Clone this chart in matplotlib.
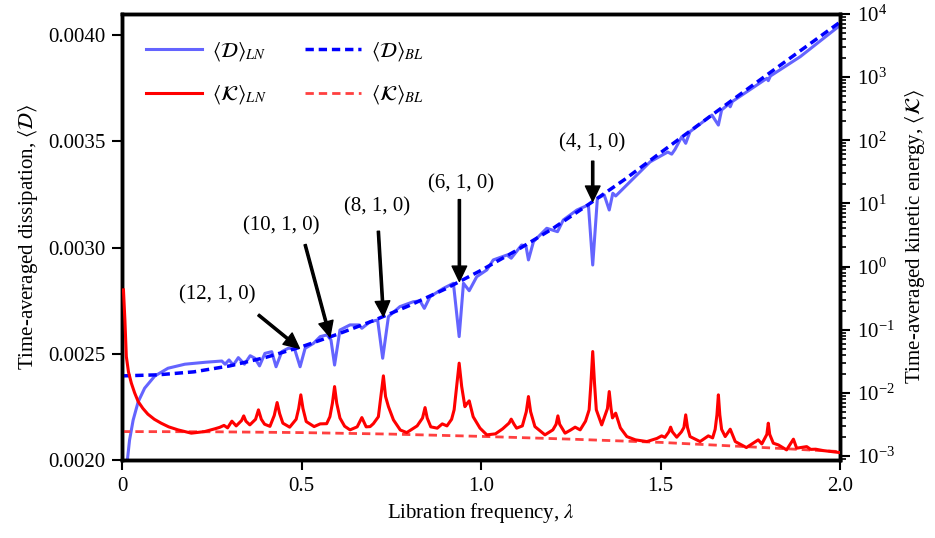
import matplotlib
matplotlib.use("Agg")
import matplotlib.pyplot as plt
from matplotlib.ticker import FixedLocator, FuncFormatter, LogLocator, NullFormatter

plt.rcParams['font.family'] = ['Liberation Serif', 'DejaVu Serif']
plt.rcParams['mathtext.fontset'] = 'stix'
plt.rcParams['font.size'] = 15

# dissipation, nonlinear run
lam_d_ln = [0.015, 0.021, 0.031, 0.045, 0.063, 0.091, 0.128, 0.175, 0.231, 0.262,
            0.278, 0.287, 0.298, 0.310, 0.324, 0.341, 0.357, 0.370, 0.383, 0.398,
            0.417, 0.429, 0.445, 0.463, 0.480, 0.496, 0.510, 0.533, 0.552, 0.571,
            0.582, 0.592, 0.607, 0.635, 0.660, 0.668, 0.691, 0.712, 0.726, 0.742,
            0.774, 0.811, 0.830, 0.842, 0.858, 0.895, 0.923, 0.939, 0.951, 0.967,
            0.988, 1.016, 1.034, 1.072, 1.084, 1.113, 1.125, 1.132, 1.146, 1.183,
            1.213, 1.229, 1.267, 1.299, 1.311, 1.324, 1.343, 1.357, 1.367, 1.375,
            1.406, 1.471, 1.520, 1.531, 1.540, 1.559, 1.570, 1.582, 1.643, 1.661,
            1.670, 1.690, 1.694, 1.700, 1.796, 1.800, 1.806, 1.889, 1.995, 2.000]
d_ln = [0.002000, 0.002094, 0.002188, 0.002274, 0.002338, 0.002395, 0.002432, 0.002451, 0.002460, 0.002464,
        0.002466, 0.002451, 0.002471, 0.002447, 0.002482, 0.002451, 0.002491, 0.002479, 0.002443, 0.002502,
        0.002510, 0.002439, 0.002510, 0.002526, 0.002526, 0.002439, 0.002526, 0.002549, 0.002581, 0.002589,
        0.002565, 0.002447, 0.002612, 0.002636, 0.002636, 0.002620, 0.002651, 0.002659, 0.002479, 0.002675,
        0.002722, 0.002745, 0.002749, 0.002714, 0.002769, 0.002808, 0.002832, 0.002581, 0.002832, 0.002797,
        0.002863, 0.002895, 0.002942, 0.002965, 0.002950, 0.003012, 0.003008, 0.002942, 0.003028, 0.003091,
        0.003075, 0.003130, 0.003177, 0.003201, 0.002918, 0.003232, 0.003248, 0.003177, 0.003256, 0.003243,
        0.003295, 0.003404, 0.003450, 0.003440, 0.003462, 0.003522, 0.003491, 0.003546, 0.003624, 0.003577,
        0.003648, 0.003676, 0.003663, 0.003688, 0.003797, 0.003786, 0.003808, 0.003899, 0.004040, 0.004048]

# dissipation, boundary-layer theory
lam_bl = [0.0, 0.1, 0.2, 0.3, 0.4, 0.5, 0.6, 0.7, 0.8, 0.9, 1.0,
          1.1, 1.2, 1.3, 1.4, 1.5, 1.6, 1.7, 1.8, 1.9, 2.0]
d_bl = [0.002396, 0.002401, 0.002415, 0.002443, 0.002483, 0.002533, 0.002592, 0.002656,
        0.002727, 0.002805, 0.002893, 0.002988, 0.003090, 0.003204, 0.003321, 0.003447,
        0.003571, 0.003695, 0.003818, 0.003940, 0.004062]

# kinetic energy, nonlinear run (log10 values)
lam_k_ln = [0.004, 0.008, 0.012, 0.018, 0.026, 0.035, 0.045, 0.058, 0.072, 0.090,
            0.109, 0.130, 0.156, 0.193, 0.230, 0.258, 0.272, 0.284, 0.294, 0.306,
            0.318, 0.333, 0.339, 0.345, 0.356, 0.372, 0.380, 0.388, 0.397, 0.412,
            0.424, 0.432, 0.439, 0.448, 0.467, 0.485, 0.492, 0.498, 0.504, 0.513,
            0.535, 0.552, 0.570, 0.579, 0.586, 0.592, 0.598, 0.607, 0.620, 0.635,
            0.655, 0.668, 0.680, 0.691, 0.700, 0.714, 0.721, 0.728, 0.734, 0.742,
            0.756, 0.775, 0.793, 0.822, 0.837, 0.844, 0.850, 0.860, 0.878, 0.892,
            0.905, 0.918, 0.925, 0.932, 0.939, 0.946, 0.955, 0.961, 0.967, 0.978,
            0.997, 1.016, 1.040, 1.060, 1.078, 1.084, 1.092, 1.099, 1.115, 1.126,
            1.132, 1.138, 1.150, 1.178, 1.200, 1.209, 1.214, 1.219, 1.234, 1.250,
            1.262, 1.276, 1.291, 1.301, 1.306, 1.311, 1.316, 1.321, 1.336, 1.346,
            1.352, 1.357, 1.362, 1.366, 1.375, 1.388, 1.406, 1.430, 1.462, 1.490,
            1.503, 1.512, 1.523, 1.528, 1.533, 1.545, 1.558, 1.565, 1.570, 1.575,
            1.582, 1.610, 1.633, 1.645, 1.652, 1.657, 1.661, 1.665, 1.670, 1.680,
            1.694, 1.708, 1.739, 1.772, 1.782, 1.796, 1.800, 1.804, 1.814, 1.828,
            1.851, 1.870, 1.879, 1.907, 1.918, 1.932, 1.953, 2.000]
log_k_ln = [-0.37, -0.845, -1.426, -1.67, -1.848, -2.00, -2.139, -2.247, -2.339, -2.42,
            -2.482, -2.54, -2.588, -2.640, -2.615, -2.572, -2.548, -2.517, -2.556, -2.450,
            -2.525, -2.44, -2.366, -2.45, -2.509, -2.42, -2.271, -2.42, -2.498, -2.532,
            -2.36, -2.155, -2.33, -2.482, -2.545, -2.42, -2.25, -2.033, -2.25, -2.456,
            -2.536, -2.493, -2.49, -2.38, -2.165, -1.902, -2.165, -2.40, -2.53, -2.588,
            -2.54, -2.393, -2.54, -2.536, -2.49, -2.38, -2.06, -1.732, -2.06, -2.219,
            -2.43, -2.59, -2.631, -2.525, -2.40, -2.235, -2.40, -2.54, -2.561, -2.493,
            -2.525, -2.42, -2.27, -1.90, -1.531, -1.90, -2.22, -2.17, -2.128, -2.38,
            -2.56, -2.667, -2.651, -2.572, -2.48, -2.418, -2.50, -2.561, -2.525, -2.30,
            -2.060, -2.30, -2.536, -2.667, -2.588, -2.50, -2.366, -2.50, -2.640, -2.588,
            -2.545, -2.588, -2.45, -2.27, -1.85, -1.347, -1.85, -2.27, -2.509, -2.35,
            -2.25, -1.981, -2.25, -2.398, -2.323, -2.556, -2.694, -2.746, -2.773, -2.723,
            -2.683, -2.707, -2.62, -2.545, -2.62, -2.704, -2.62, -2.55, -2.350, -2.55,
            -2.694, -2.773, -2.683, -2.715, -2.58, -2.35, -2.033, -2.35, -2.58, -2.694,
            -2.577, -2.773, -2.868, -2.746, -2.81, -2.66, -2.482, -2.66, -2.799, -2.826,
            -2.905, -2.735, -2.878, -2.853, -2.897, -2.894, -2.916, -2.948]

# kinetic energy, boundary-layer theory (log10 values)
lam_k_bl = [0.0, 0.25, 0.5, 0.75, 1.0, 1.25, 1.5, 1.75, 2.0]
log_k_bl = [-2.615, -2.618, -2.631, -2.655, -2.691, -2.735, -2.786, -2.857, -2.932]

k_ln = [10 ** v for v in log_k_ln]
k_bl = [10 ** v for v in log_k_bl]

# resonance labels
modes = ['(12, 1, 0)', '(10, 1, 0)', '(8, 1, 0)', '(6, 1, 0)', '(4, 1, 0)']
tip_lam = [0.494, 0.579, 0.728, 0.9396, 1.311]
tip_d = [0.002526, 0.002580, 0.002676, 0.002841, 0.003218]
tail_lam = [0.380, 0.510, 0.714, 0.9396, 1.311]
tail_d = [0.002683, 0.003014, 0.003077, 0.003226, 0.003407]
text_lam = [0.266, 0.443, 0.710, 0.944, 1.309]
text_d = [0.002777, 0.003104, 0.003193, 0.003302, 0.003495]

fig = plt.figure(figsize=(9.35, 5.38), dpi=100)
ax = fig.add_axes([0.1305, 0.145, 0.768, 0.829])
ax2 = ax.twinx()

l1, = ax.plot(lam_d_ln, d_ln, color='#6464ff', lw=2.2, zorder=2)
l2, = ax.plot(lam_bl, d_bl, color='#0000ff', lw=2.5, ls='--', dashes=(2.4, 1.4), zorder=3)
l4, = ax2.plot(lam_k_bl, k_bl, color='#ff4040', lw=2.0, ls='--', dashes=(3.0, 1.8), zorder=2)
l3, = ax2.plot(lam_k_ln, k_ln, color='#ff0000', lw=2.2, zorder=3)

for m, tx, ty, sx, sy, px, py in zip(modes, tip_lam, tip_d, tail_lam, tail_d, text_lam, text_d):
    ax.annotate('', xy=(tx, ty), xytext=(sx, sy),
                arrowprops=dict(facecolor='black', edgecolor='black', width=1.6,
                                headwidth=10.5, headlength=11, shrink=0.0))
    ax.text(px, py, m, ha='center', va='center', fontsize=15)

ax.set_xlim(0, 2.0)
ax.set_ylim(0.0020, 0.0041)
ax2.set_yscale('log')
ax2.set_ylim(10 ** -3.065, 1e4)

ax.xaxis.set_major_locator(FixedLocator([0, 0.5, 1.0, 1.5, 2.0]))
ax.xaxis.set_major_formatter(FuncFormatter(lambda v, p: '0' if v == 0 else '%.1f' % v))
ax.yaxis.set_major_locator(FixedLocator([0.0020, 0.0025, 0.0030, 0.0035, 0.0040]))
ax.yaxis.set_major_formatter(FuncFormatter(lambda v, p: '%.4f' % v))
ax2.yaxis.set_major_locator(LogLocator(base=10, numticks=20))
ax2.yaxis.set_minor_locator(LogLocator(base=10, subs=[2, 3, 4, 5, 6, 7, 8, 9], numticks=20))
ax2.yaxis.set_minor_formatter(NullFormatter())

for a in (ax, ax2):
    for s in a.spines.values():
        s.set_linewidth(2.5)
    a.tick_params(which='major', direction='out', length=7, width=1.5, labelsize=15, pad=5)
    a.tick_params(which='minor', direction='out', length=4, width=1.2)

ax.set_xlabel('Libration frequency, $\\lambda$', fontsize=15)
ax.set_ylabel('Time-averaged dissipation, $\\langle\\mathcal{D}\\rangle$', fontsize=15, labelpad=6)
ax2.set_ylabel('Time-averaged kinetic energy, $\\langle\\mathcal{K}\\rangle$', fontsize=15, labelpad=6)

ax2.legend([l1, l3, l2, l4],
           ['$\\langle\\mathcal{D}\\rangle_{LN}$', '$\\langle\\mathcal{K}\\rangle_{LN}$',
            '$\\langle\\mathcal{D}\\rangle_{BL}$', '$\\langle\\mathcal{K}\\rangle_{BL}$'],
           loc='upper left', bbox_to_anchor=(0.007, 0.984), ncol=2, frameon=False, fontsize=15,
           handlelength=2.7, handletextpad=0.5, columnspacing=1.8, labelspacing=1.0)

fig.savefig('out.png', dpi=100)
